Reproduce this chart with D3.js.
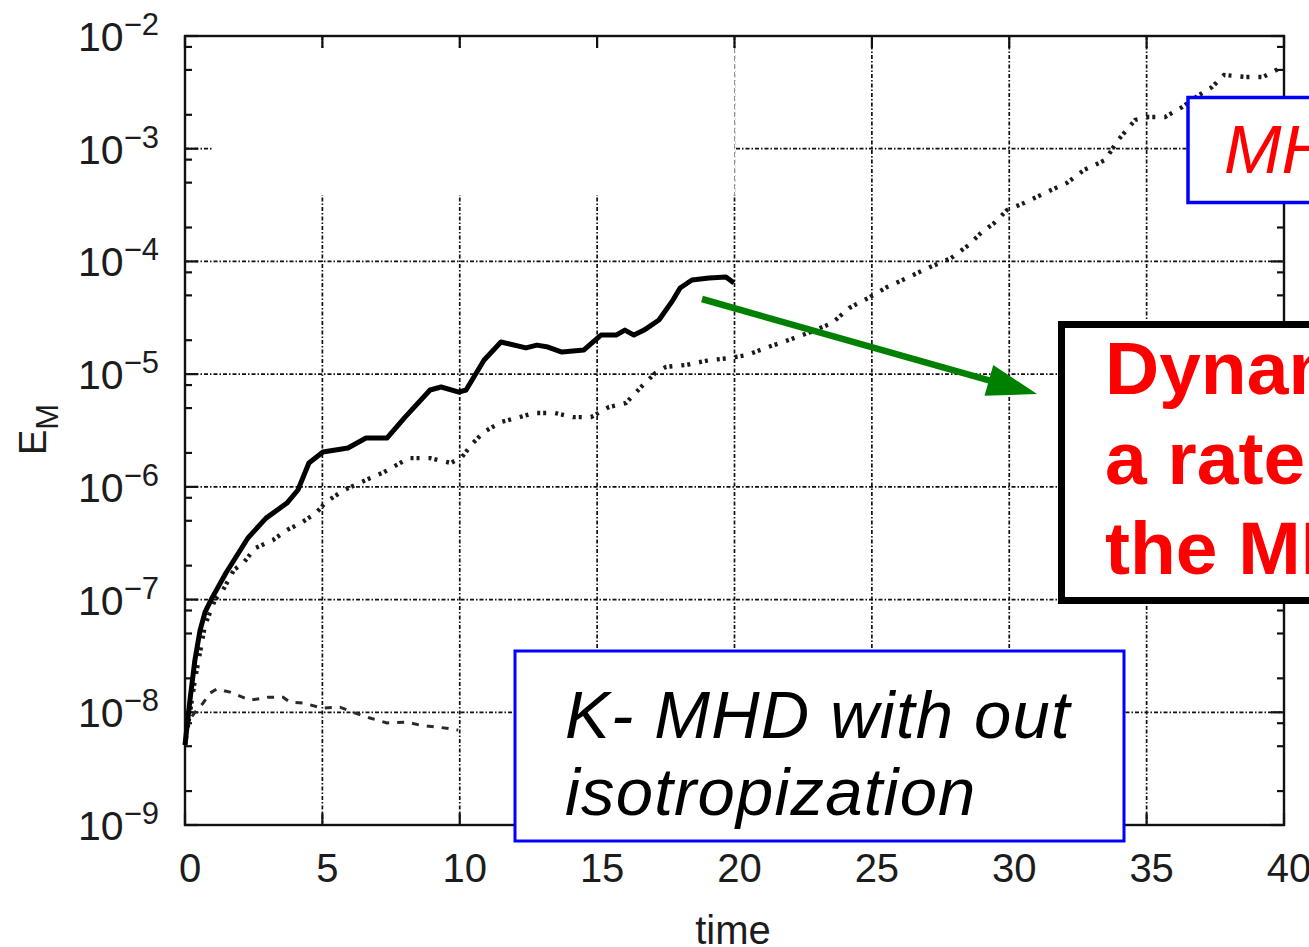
<!DOCTYPE html>
<html>
<head>
<meta charset="utf-8">
<script src="https://cdn.jsdelivr.net/npm/d3@7"></script>
<style>
  body { margin: 0; background: #fff; }
  svg { display: block; }
</style>
</head>
<body>
<svg id="chart" width="1309" height="947"></svg>
<script>
// Magnetic energy E_M versus time, three runs

// K-MHD with isotropization (solid)
const timeSolid = [0, 0.18, 0.36, 0.55, 0.73, 0.98, 1.49, 2.29, 2.95, 3.71, 4.11, 4.51, 5.02, 5.93, 6.59, 7.35, 8.01, 8.92, 9.32, 9.97, 10.23, 10.88, 11.50, 12.41, 12.81, 13.21, 13.72, 14.52, 15.14, 15.69, 16.01, 16.34, 16.71, 17.25, 17.76, 18.02, 18.45, 19.07, 19.69, 19.98];
const emSolid = [5.12e-9, 1.28e-8, 2.90e-8, 5.36e-8, 7.74e-8, 1.03e-7, 1.72e-7, 3.52e-7, 5.28e-7, 7.18e-7, 9.38e-7, 1.63e-6, 2.04e-6, 2.21e-6, 2.71e-6, 2.71e-6, 4.16e-6, 7.23e-6, 7.69e-6, 6.93e-6, 7.23e-6, 1.33e-5, 1.93e-5, 1.71e-5, 1.81e-5, 1.74e-5, 1.57e-5, 1.64e-5, 2.22e-5, 2.22e-5, 2.46e-5, 2.22e-5, 2.46e-5, 3.02e-5, 4.54e-5, 5.81e-5, 6.84e-5, 7.13e-5, 7.28e-5, 6.43e-5];

// MHD (dotted)
const timeDotted = [0, 0.36, 0.73, 1.09, 1.38, 1.78, 2.15, 2.55, 3.20, 3.71, 4.22, 4.77, 5.13, 5.79, 6.59, 7.24, 8.15, 8.92, 9.68, 10.08, 10.48, 10.88, 11.50, 12.05, 12.70, 13.47, 14.12, 14.78, 15.43, 16.05, 16.60, 17.11, 17.51, 18.27, 19.07, 19.84, 20.46, 21.22, 21.98, 22.78, 23.55, 24.17, 24.93, 25.55, 26.35, 27.12, 27.88, 28.53, 28.97, 29.45, 29.92, 30.54, 31.30, 32.10, 32.72, 33.49, 33.96, 34.58, 35.05, 35.67, 36.29, 36.91, 37.38, 37.82, 38.62, 39.24, 39.86];
const emDotted = [5.12e-9, 1.93e-8, 5.94e-8, 9.91e-8, 1.21e-7, 1.83e-7, 2.15e-7, 2.86e-7, 3.37e-7, 4.14e-7, 4.78e-7, 5.86e-7, 7.33e-7, 9.38e-7, 1.15e-6, 1.35e-6, 1.80e-6, 1.80e-6, 1.63e-6, 1.84e-6, 2.45e-6, 3.06e-6, 3.76e-6, 4.07e-6, 4.52e-6, 4.52e-6, 4.16e-6, 4.16e-6, 5.11e-6, 5.55e-6, 7.69e-6, 1.02e-5, 1.16e-5, 1.21e-5, 1.33e-5, 1.39e-5, 1.48e-5, 1.74e-5, 2.01e-5, 2.37e-5, 2.84e-5, 3.86e-5, 4.83e-5, 5.93e-5, 7.28e-5, 8.91e-5, 1.07e-4, 1.40e-4, 1.79e-4, 2.19e-4, 2.86e-4, 3.30e-4, 4.05e-4, 4.97e-4, 6.47e-4, 7.94e-4, 1.19e-3, 1.80e-3, 1.91e-3, 1.91e-3, 2.34e-3, 2.99e-3, 3.52e-3, 4.51e-3, 4.33e-3, 4.33e-3, 5.20e-3];

// K-MHD without isotropization (dashed)
const timeDashed = [0, 0.11, 0.36, 0.66, 0.91, 1.16, 1.64, 2.37, 3.02, 3.57, 3.82, 4.29, 4.99, 5.64, 6.11, 6.73, 7.35, 8.08, 8.55, 9.17, 9.75, 9.94];
const emDashed = [5.12e-9, 8.18e-9, 1.00e-8, 1.21e-8, 1.48e-8, 1.61e-8, 1.51e-8, 1.28e-8, 1.36e-8, 1.36e-8, 1.23e-8, 1.21e-8, 1.09e-8, 1.11e-8, 1.00e-8, 8.89e-9, 8.04e-9, 8.18e-9, 7.69e-9, 7.40e-9, 7.10e-9, 6.95e-9];

// Axes
const xTicks = [0, 5, 10, 15, 20, 25, 30, 35, 40];
const yExponents = [-9, -8, -7, -6, -5, -4, -3, -2];
const yMinorFactors = [2, 5, 8];

const svg = d3.select("#chart");
const plotLeft = 185, plotRight = 1284, plotTop = 36, plotBottom = 825;

const x = d3.scaleLinear().domain([0, 40]).range([plotLeft, plotRight]);
const y = d3.scaleLog().domain([1e-9, 1e-2]).range([plotBottom, plotTop]);

const FONT = "'Liberation Sans', Arial, Helvetica, sans-serif";
const gridColor = "#111";
const gridDash = "4,2,1.5,2";

// Grid
const grid = svg.append("g");
yExponents.filter(e => e > -9 && e < -2).forEach(e => {
  grid.append("line")
    .attr("x1", plotLeft).attr("x2", plotRight)
    .attr("y1", y(Math.pow(10, e))).attr("y2", y(Math.pow(10, e)))
    .attr("stroke", gridColor).attr("stroke-width", 1.7)
    .attr("stroke-dasharray", gridDash);
});
xTicks.filter(t => t > 0 && t < 40).forEach(t => {
  grid.append("line")
    .attr("x1", x(t)).attr("x2", x(t))
    .attr("y1", plotTop).attr("y2", plotBottom)
    .attr("stroke", gridColor).attr("stroke-width", 1.7)
    .attr("stroke-dasharray", gridDash);
});

// Blank panel over the upper-left corner of the plot
const blankTop = plotTop + 12, blankBottom = 195;
svg.append("rect")
  .attr("x", x(1)).attr("y", blankTop)
  .attr("width", x(20) - x(1) + 1).attr("height", blankBottom - blankTop)
  .attr("fill", "#fff");
svg.append("line")
  .attr("x1", x(20)).attr("x2", x(20))
  .attr("y1", blankTop).attr("y2", blankBottom)
  .attr("stroke", "#777").attr("stroke-width", 0.8)
  .attr("stroke-dasharray", "5,3");

// Frame
svg.append("rect")
  .attr("x", plotLeft).attr("y", plotTop)
  .attr("width", plotRight - plotLeft).attr("height", plotBottom - plotTop)
  .attr("fill", "none").attr("stroke", "#111").attr("stroke-width", 2.4);

// Ticks (inside, mirrored)
const ticks = svg.append("g").attr("stroke", "#111").attr("stroke-width", 2.2);
xTicks.forEach(t => {
  ticks.append("line").attr("x1", x(t)).attr("x2", x(t)).attr("y1", plotBottom).attr("y2", plotBottom - 12);
  ticks.append("line").attr("x1", x(t)).attr("x2", x(t)).attr("y1", plotTop).attr("y2", plotTop + 12);
});
yExponents.forEach(e => {
  const v = Math.pow(10, e);
  ticks.append("line").attr("x1", plotLeft).attr("x2", plotLeft + 13).attr("y1", y(v)).attr("y2", y(v));
  ticks.append("line").attr("x1", plotRight).attr("x2", plotRight - 13).attr("y1", y(v)).attr("y2", y(v));
  if (e < -2) {
    yMinorFactors.forEach(f => {
      const m = f * v;
      ticks.append("line").attr("x1", plotLeft).attr("x2", plotLeft + 7).attr("y1", y(m)).attr("y2", y(m));
      ticks.append("line").attr("x1", plotRight).attr("x2", plotRight - 7).attr("y1", y(m)).attr("y2", y(m));
    });
  }
});

// Tick labels
const labels = svg.append("g").attr("font-family", FONT).attr("fill", "#1c1c1c");
xTicks.forEach(t => {
  labels.append("text")
    .attr("x", x(t) + 5).attr("y", 882)
    .attr("text-anchor", "middle").attr("font-size", 40)
    .text(t);
});
yExponents.forEach(e => {
  const ty = y(Math.pow(10, e));
  const txt = labels.append("text")
    .attr("x", 159).attr("y", ty + 15)
    .attr("text-anchor", "end").attr("font-size", 41);
  txt.append("tspan").text("10");
  txt.append("tspan").attr("font-size", 31).attr("dy", -16).text("\u2212" + Math.abs(e));
});

// Axis titles
svg.append("text")
  .attr("x", 733).attr("y", 944)
  .attr("text-anchor", "middle").attr("font-family", FONT).attr("font-size", 40)
  .attr("fill", "#1c1c1c").text("time");
const yTitle = svg.append("text")
  .attr("transform", "translate(46,455) rotate(-90)")
  .attr("font-family", FONT).attr("font-size", 38).attr("fill", "#1c1c1c");
yTitle.append("tspan").text("E");
yTitle.append("tspan").attr("font-size", 31).attr("dy", 12).text("M");

// Curves
const line = d3.line().x(d => x(d[0])).y(d => y(d[1]));
const zip = (a, b) => a.map((v, i) => [v, b[i]]);

svg.append("path")
  .datum(zip(timeDashed, emDashed))
  .attr("d", line).attr("fill", "none")
  .attr("stroke", "#2a2a2a").attr("stroke-width", 3)
  .attr("stroke-dasharray", "7,8");

svg.append("path")
  .datum(zip(timeDotted, emDotted))
  .attr("d", line).attr("fill", "none")
  .attr("stroke", "#1a1a1a").attr("stroke-width", 4.4)
  .attr("stroke-dasharray", "3,3,3,9");

svg.append("path")
  .datum(zip(timeSolid, emSolid))
  .attr("d", line).attr("fill", "none")
  .attr("stroke", "#000").attr("stroke-width", 5)
  .attr("stroke-linejoin", "round");

// Annotation: arrow
const arrowStart = [702, 299], arrowTip = [1037, 394];
const ang = Math.atan2(arrowTip[1] - arrowStart[1], arrowTip[0] - arrowStart[0]);
const headLen = 50, headHalf = 16;
const baseX = arrowTip[0] - headLen * Math.cos(ang), baseY = arrowTip[1] - headLen * Math.sin(ang);
svg.append("line")
  .attr("x1", arrowStart[0]).attr("y1", arrowStart[1])
  .attr("x2", baseX + 2 * Math.cos(ang)).attr("y2", baseY + 2 * Math.sin(ang))
  .attr("stroke", "#008000").attr("stroke-width", 6.5);
svg.append("polygon")
  .attr("points", [
    arrowTip,
    [baseX - headHalf * Math.sin(ang), baseY + headHalf * Math.cos(ang)],
    [baseX + headHalf * Math.sin(ang), baseY - headHalf * Math.cos(ang)]
  ].map(p => p.join(",")).join(" "))
  .attr("fill", "#008000");

// Annotation: top-right label box
svg.append("rect")
  .attr("x", 1188).attr("y", 97.5).attr("width", 200).attr("height", 105)
  .attr("fill", "#fff").attr("stroke", "#0000ff").attr("stroke-width", 3.5);
svg.append("text")
  .attr("x", 1224).attr("y", 173)
  .attr("font-family", FONT).attr("font-style", "italic").attr("font-size", 69)
  .attr("fill", "#ff0000").text("MHD");

// Annotation: black box with bold red statement
svg.append("rect")
  .attr("x", 1061.5).attr("y", 324.5).attr("width", 300).attr("height", 276)
  .attr("fill", "#fff").attr("stroke", "#000").attr("stroke-width", 7);
const bold = svg.append("text")
  .attr("font-family", FONT).attr("font-weight", "bold").attr("font-size", 75)
  .attr("fill", "#ff0000");
["Dynamo grows at", "a rate similar to", "the MHD case"].forEach((s, i) => {
  bold.append("tspan").attr("x", 1105).attr("y", 394 + i * 90).text(s);
});

// Annotation: lower label box
svg.append("rect")
  .attr("x", 515).attr("y", 651).attr("width", 609).attr("height", 190)
  .attr("fill", "#fff").attr("stroke", "#0000ff").attr("stroke-width", 3);
const it = svg.append("text")
  .attr("font-family", FONT).attr("font-style", "italic").attr("font-size", 67)
  .attr("letter-spacing", 1.2).attr("fill", "#000");
it.append("tspan").attr("x", 565).attr("y", 738).text("K- MHD with out");
it.append("tspan").attr("x", 565).attr("y", 815).text("isotropization");
</script>
</body>
</html>
